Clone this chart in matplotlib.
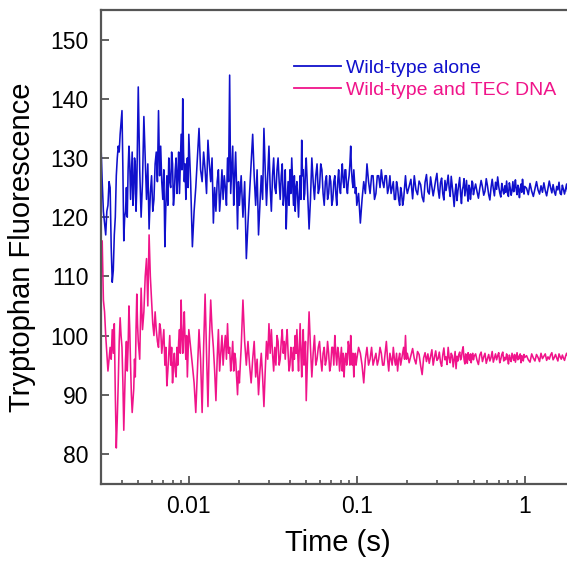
import matplotlib.pyplot as plt
from matplotlib.ticker import LogLocator, FixedLocator, NullFormatter
import numpy as np

plt.rcParams['font.family'] = ['Liberation Sans', 'DejaVu Sans']

# time base of the trace, in ms
time_ms = [
    3.00, 3.05, 3.10, 3.15, 3.20, 3.25, 3.30, 3.35, 3.40, 3.45,
    3.50, 3.55, 3.60, 3.65, 3.70, 3.75, 3.80, 3.85, 3.90, 3.95,
    4.00, 4.05, 4.10, 4.15, 4.20, 4.25, 4.30, 4.35, 4.40, 4.45,
    4.50, 4.55, 4.60, 4.65, 4.70, 4.75, 4.80, 4.85, 4.90, 4.95,
    5.00,
    5.1, 5.2, 5.3, 5.4, 5.5, 5.6, 5.7, 5.8, 5.9, 6.0,
    6.1, 6.2, 6.3, 6.4, 6.5, 6.6, 6.7, 6.8, 6.9, 7.0,
    7.1, 7.2, 7.3, 7.4, 7.5, 7.6, 7.7, 7.8, 7.9, 8.0,
    8.1, 8.2, 8.3, 8.4, 8.5, 8.6, 8.7, 8.8, 8.9, 9.0,
    9.1, 9.2, 9.3, 9.4, 9.5, 9.6, 9.7, 9.8, 9.9, 10.0,
    10.25, 10.5, 10.75, 11, 11.25, 11.5, 11.75, 12, 12.25, 12.5,
    12.75, 13, 13.25, 13.5, 13.75, 14, 14.25, 14.5, 14.75, 15,
    15.25, 15.5, 15.75, 16, 16.25, 16.5, 16.75, 17, 17.25, 17.5,
    17.75, 18, 18.25, 18.5, 18.75, 19, 19.25, 19.5, 19.75, 20,
    20.5, 21, 21.5, 22, 22.5, 23, 23.5, 24, 24.5, 25,
    25.5, 26, 26.5, 27, 27.5, 28, 28.5, 29, 29.5, 30,
    30.5, 31, 31.5, 32, 32.5, 33, 33.5, 34, 34.5, 35,
    35.5, 36, 36.5, 37, 37.5, 38, 38.5, 39, 39.5, 40,
    40.5, 41, 41.5, 42, 42.5, 43, 43.5, 44, 44.5, 45,
    45.5, 46, 46.5, 47, 47.5, 48, 48.5, 49, 49.5, 50,
    51, 52, 53, 54, 55, 56, 57, 58, 59, 60,
    61, 62, 63, 64, 65, 66, 67, 68, 69, 70,
    71, 72, 73, 74, 75, 76, 77, 78, 79, 80,
    81, 82, 83, 84, 85, 86, 87, 88, 89, 90,
    91, 92, 93, 94, 95, 96, 97, 98, 99, 100,
    102.5, 105, 107.5, 110, 112.5, 115, 117.5, 120, 122.5, 125,
    127.5, 130, 132.5, 135, 137.5, 140, 142.5, 145, 147.5, 150,
    152.5, 155, 157.5, 160, 162.5, 165, 167.5, 170, 172.5, 175,
    177.5, 180, 182.5, 185, 187.5, 190, 192.5, 195, 197.5, 200,
    205, 210, 215, 220, 225, 230, 235, 240, 245, 250,
    255, 260, 265, 270, 275, 280, 285, 290, 295, 300,
    305, 310, 315, 320, 325, 330, 335, 340, 345, 350,
    355, 360, 365, 370, 375, 380, 385, 390, 395, 400,
    405, 410, 415, 420, 425, 430, 435, 440, 445, 450,
    455, 460, 465, 470, 475, 480, 485, 490, 495, 500,
    510, 520, 530, 540, 550, 560, 570, 580, 590, 600,
    610, 620, 630, 640, 650, 660, 670, 680, 690, 700,
    710, 720, 730, 740, 750, 760, 770, 780, 790, 800,
    810, 820, 830, 840, 850, 860, 870, 880, 890, 900,
    910, 920, 930, 940, 950, 960, 970, 980, 990, 1000,
    1025, 1050, 1075, 1100, 1125, 1150, 1175, 1200, 1225, 1250,
    1275, 1300, 1325, 1350, 1375, 1400, 1425, 1450, 1475, 1500,
    1525, 1550, 1575, 1600, 1625, 1650, 1675, 1700, 1725, 1750,
    1775, 1800, 1825, 1850, 1875, 1900, 1925, 1950, 1975, 2000,
]

wt_alone = [
    132, 126, 121, 119, 117, 121, 122, 126, 125, 115,
    109, 111, 117, 120, 127, 130, 132, 131, 134, 136,
    138, 128, 116, 120, 121, 125, 120, 128, 132, 129,
    123, 127, 131, 122, 124, 130, 129, 121, 125, 133,
    142,
    128, 120, 126, 137, 130, 123, 129, 118, 124, 127,
    121, 123, 129, 131, 126, 138, 127, 132, 126, 123,
    128, 115, 122, 127, 122, 130, 126, 125, 131, 129,
    122, 124, 128, 130, 124, 127, 131, 124, 129, 134,
    128, 140, 131, 126, 129, 123, 127, 130, 125, 134,
    126, 115, 121, 125, 130, 135, 128, 126, 131, 128,
    124, 133, 129, 126, 130, 119, 125, 121, 126, 128,
    121, 124, 128, 123, 127, 125, 122, 130, 126, 144,
    124, 128, 132, 122, 127, 131, 125, 118, 126, 122,
    127, 120, 126, 113, 119, 124, 129, 134, 127, 122,
    128, 117, 122, 127, 123, 135, 128, 122, 127, 132,
    125, 121, 127, 130, 125, 124, 128, 130, 126, 123,
    127, 129, 122, 124, 128, 118, 123, 126, 122, 128,
    124, 130, 126, 122, 127, 121, 125, 126, 123, 120,
    124, 127, 123, 133, 127, 128, 123, 124, 128, 130,
    124, 118, 123, 130, 126, 123, 127, 129, 124, 125,
    129, 128, 124, 122, 126, 127, 123, 124, 127, 126,
    122, 123, 126, 127, 124, 122, 126, 128, 125, 124,
    127, 129, 126, 125, 128, 128, 125, 124, 126, 127,
    129, 132, 128, 126, 125, 128, 126, 124, 125, 122,
    124, 119, 123, 126, 124, 129, 126, 124, 127, 127,
    123, 124, 127, 127, 125, 128, 126, 125, 127, 127,
    124, 125, 127, 124, 125, 126, 123, 123, 126, 125,
    123, 122, 125, 124, 122, 123, 125, 127, 125, 124,
    125.2, 126.4, 123.1, 127.0, 124.6, 123.8, 126.1, 125.5, 123.4, 122.6,
    125.9, 127.2, 124.3, 123.9, 126.8, 125.1, 123.6, 124.9, 126.3, 127.4,
    124.7, 123.2, 125.8, 126.6, 124.0, 122.9, 126.2, 124.5, 125.7, 127.1,
    124.8, 123.5, 126.9, 125.3, 123.7, 121.8, 124.2, 125.6, 122.8, 124.4,
    125.5, 126.7, 123.9, 122.3, 124.6, 125.2, 126.5, 123.6, 125.0, 126.2,
    124.1, 122.7, 125.4, 124.9, 123.0, 124.3, 126.1, 125.8, 123.8, 124.5,
    125.6, 124.3, 123.2, 124.9, 126.2, 125.1, 123.7, 124.4, 126.5, 125.3,
    123.8, 122.9, 125.0, 126.4, 124.8, 123.6, 125.9, 124.7, 126.8, 125.2,
    124.1, 123.4, 125.7, 124.6, 123.9, 125.3, 124.2, 126.1, 124.0, 123.5,
    125.8, 124.9, 123.7, 124.5, 126.0, 124.3, 125.1, 126.3, 124.6, 123.8,
    125.4, 124.7, 123.3, 124.8, 125.6, 124.2, 126.4, 125.0, 123.9, 125.2,
    124.9, 123.8, 125.7, 124.4, 123.5, 124.8, 126.0, 124.6, 123.9, 125.3,
    124.2, 125.8, 124.5, 123.6, 124.9, 126.1, 125.0, 124.1, 125.5, 124.3,
    123.7, 125.2, 124.6, 125.9, 124.0, 123.8, 125.4, 124.7, 123.9, 124.8,
    125.6, 124.3, 125.1, 124.0, 125.7, 124.5, 123.9, 124.8, 125.2, 124.4,
]

wt_tec = [
    112, 116, 106, 104, 100, 97, 94, 96, 98, 96,
    101, 97, 102, 90, 81, 86, 92, 99, 103, 100,
    98, 92, 84, 90, 96, 99, 94, 98, 105, 101,
    95, 90, 87, 89, 91, 96, 93, 101, 107, 102,
    99,
    96, 108, 101, 104, 110, 113, 105, 117, 110, 106,
    102, 100, 104, 101, 99, 98, 102, 101, 97, 99,
    101, 95, 98, 91.5, 94, 97, 100, 95, 98, 92,
    95, 97, 94, 93, 98, 95, 99, 101, 97, 106,
    100, 97, 101, 104, 99, 96, 100, 93, 97, 101,
    98, 95, 92, 87, 94, 101, 96, 87, 98, 107,
    97, 88, 99, 106, 101, 98, 94, 89, 96, 101,
    94, 97, 100, 95, 98, 100, 96, 102, 97, 98,
    94, 96, 99, 94, 97, 96, 93, 90, 94, 92,
    98, 106, 99, 95, 99, 95, 92, 96, 99, 93,
    96, 90, 94, 97, 93, 88, 94, 99, 96, 102,
    97, 101, 97, 94, 98, 95, 100, 99, 95, 96,
    99, 101, 97, 99, 96, 99, 101, 97, 94, 95,
    98, 97, 94, 98, 96, 100, 97, 101, 97, 94,
    98, 102, 97, 93, 98, 101, 95, 96, 99, 89,
    97, 104, 98, 93, 97, 100, 95, 96, 98, 99,
    96, 94, 97, 98, 95, 96, 99, 97, 94, 95,
    98, 98, 95, 100, 97, 95, 98, 97, 94, 96,
    98, 94, 97, 93, 96, 97, 95, 96, 99, 98,
    95, 100, 97, 95, 97, 93, 96, 97, 95, 96,
    98, 97, 95, 92, 96, 98, 95, 96, 98, 95,
    96, 97, 95, 96, 98, 97, 95, 95, 97, 99,
    96, 94, 97, 96, 95, 98, 96, 95, 97, 94,
    96, 97, 95, 96, 97, 98, 96, 100, 96, 97,
    95.4, 96.6, 97.8, 96.1, 95.2, 97.3, 96.8, 94.9, 93.4, 96.2,
    97.1, 95.6, 96.9, 95.3, 96.5, 97.6, 95.0, 96.3, 97.4, 95.8,
    96.1, 97.2, 95.5, 94.8, 96.7, 97.9, 95.9, 96.4, 95.1, 98.0,
    96.2, 95.4, 97.0, 96.6, 94.7, 96.0, 97.3, 94.4, 96.5, 95.7,
    96.8, 97.2, 95.9, 96.3, 97.5, 98.1, 96.0, 95.2, 96.9, 96.4,
    95.3, 97.1, 96.2, 95.8, 96.9, 95.4, 96.6, 97.0, 95.9, 96.5,
    96.9, 95.8, 95.1, 96.7, 97.2, 95.6, 96.4, 97.0, 95.3, 96.1,
    96.8, 95.7, 96.3, 97.3, 95.5, 96.2, 96.9, 95.9, 96.6, 97.1,
    95.4, 96.0, 96.8, 97.2, 95.7, 96.3, 95.9, 96.9, 96.2, 95.2,
    96.7, 96.0, 95.6, 97.0, 96.4, 95.8, 96.8, 95.5, 96.3, 97.1,
    95.9, 96.5, 96.1, 96.9, 95.4, 96.6, 96.2, 95.7, 96.8, 96.3,
    96.6, 95.9, 95.5, 96.9, 96.2, 95.7, 96.8, 96.3, 95.6, 97.0,
    96.1, 96.5, 96.9, 95.8, 96.4, 96.0, 96.7, 97.1, 95.9, 96.3,
    96.8, 96.2, 95.7, 96.9, 96.4, 96.0, 96.7, 96.2, 95.8, 96.5,
    97.0, 96.6, 96.1, 96.4, 95.9, 96.8, 96.3, 96.0, 96.7, 96.4,
]

t = np.array(time_ms) / 1000.0

fig = plt.figure(figsize=(5.67, 5.64), dpi=100)
ax = fig.add_axes([101 / 567, 1 - 483.5 / 564, (575.3 - 101) / 567, (483.5 - 10) / 564])

blue = '#1010CC'
pink = '#F0148A'
ax.plot(t, wt_alone, color=blue, lw=1.15, label='Wild-type alone')
ax.plot(t, wt_tec, color=pink, lw=1.15, label='Wild-type and TEC DNA')

ax.set_xscale('log')
ax.set_xlim(0.003, 2)
ax.set_ylim(75, 155)
ax.set_yticks([80, 90, 100, 110, 120, 130, 140, 150])
ax.xaxis.set_major_locator(FixedLocator([0.01, 0.1, 1]))
ax.set_xticklabels(['0.01', '0.1', '1'])
ax.xaxis.set_minor_locator(LogLocator(base=10, subs=np.arange(2, 10)))
ax.xaxis.set_minor_formatter(NullFormatter())

for s in ['left', 'bottom', 'top', 'right']:
    ax.spines[s].set_color('#555555')
    ax.spines[s].set_linewidth(1.6)

ax.tick_params(axis='both', which='major', direction='in', length=6, width=1.3,
               color='#555555', labelsize=16.5, pad=9)
ax.tick_params(axis='x', which='major', pad=8)
ax.tick_params(axis='x', which='minor', direction='in', length=3, width=1.2,
               color='#555555')
ax.tick_params(axis='y', which='minor', left=False)

ax.set_xlabel('Time (s)', fontsize=21, labelpad=8)
ax.set_ylabel('Tryptophan Fluorescence', fontsize=21, labelpad=10)

leg = ax.legend(loc='upper left', bbox_to_anchor=(294 / 567, 1 - 59 / 564),
                bbox_transform=fig.transFigure, frameon=False, fontsize=14,
                handlelength=2.4, handletextpad=0.3, labelspacing=0.25,
                borderpad=0, borderaxespad=0, labelcolor='linecolor')
for h in leg.legend_handles:
    h.set_linewidth(1.3)

plt.savefig('out.png', dpi=100)
